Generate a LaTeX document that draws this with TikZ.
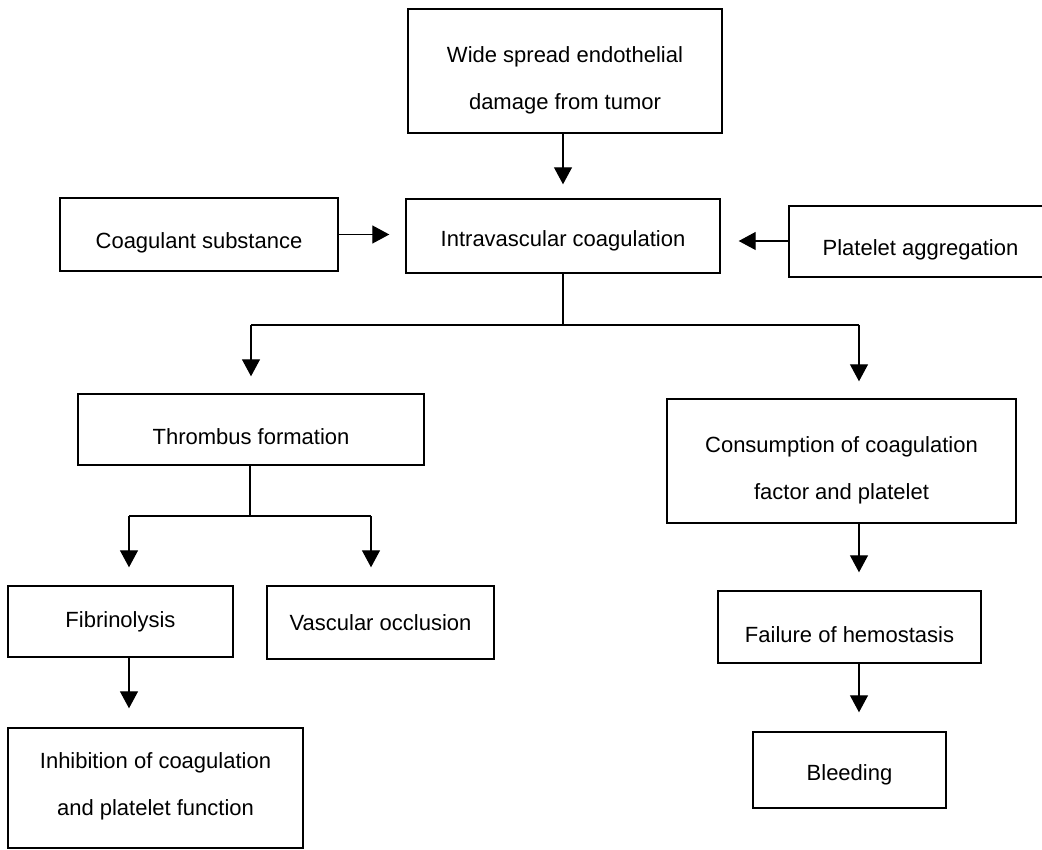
\documentclass[tikz,border=0pt]{standalone}
\usepackage{fontspec}
\setmainfont{Liberation Sans}
\usetikzlibrary{arrows.meta}
\tikzset{
  box/.style={draw, line width=1.4pt, rectangle, inner sep=0pt},
  txt/.style={inner sep=0pt, align=center, font=\fontsize{22}{47}\selectfont},
  conn/.style={line width=1.2pt},
  arr/.style={conn, -{Triangle[length=17pt,width=18pt]}},
}
% name, left, right, top, bottom, text offset (down), text
\newcommand{\bx}[7]{\node[box, minimum width={#3-#2}, minimum height={#5-#4}] (#1) at ({(#2+#3)/2},{(#4+#5)/2}) {};
  \node[txt] (#1-t) at ([yshift=-#6pt]#1.center) {#7};}
\begin{document}
\begin{tikzpicture}[x=1pt,y=-1pt]
\path[use as bounding box] (0,0) rectangle (1042,850);
\bx{top}{408}{722}{9}{133}{9}{Wide spread endothelial\\damage from tumor}
\bx{coag}{60}{338}{198}{271}{8}{Coagulant substance}
\bx{intra}{406}{720}{199}{273}{5}{Intravascular coagulation}
\bx{plat}{789}{1052}{206}{277}{8}{Platelet aggregation}
\bx{thromb}{78}{424}{394}{465}{7}{Thrombus formation}
\bx{fibrin}{8}{233}{586}{657}{0}{Fibrinolysis}
\bx{vasc}{267}{494}{586}{659}{0}{Vascular occlusion}
\bx{inhib}{8}{303}{728}{848}{-2}{Inhibition of coagulation\\and platelet function}
\bx{cons}{667}{1016}{399}{523}{9}{Consumption of coagulation\\factor and platelet}
\bx{fail}{718}{981}{591}{663}{8}{Failure of hemostasis}
\bx{bleed}{753}{946}{732}{808}{5}{Bleeding}
% connectors
\coordinate (j1) at (563,325);
\coordinate (j1l) at (251,325);
\coordinate (j1r) at (859,325);
\coordinate (j2) at (250,516);
\coordinate (j2l) at (129,516);
\coordinate (j2r) at (371,516);
\draw[arr, shorten >=14pt] (top.south -| j1) -- (intra.north -| j1);
\draw[arr, shorten >=16pt] (coag.east) -- (coag.east -| intra.west);
\draw[arr, shorten >=18pt] (plat.west |- 0,241) -- (intra.east |- 0,241);
\draw[conn] (intra.south -| j1) -- (j1);
\draw[conn] (j1l) -- (j1r);
\draw[arr, shorten >=17pt] (j1l) -- (thromb.north -| j1l);
\draw[arr, shorten >=17pt] (j1r) -- (cons.north -| j1r);
\draw[conn] (thromb.south -| j2) -- (j2);
\draw[conn] (j2l) -- (j2r);
\draw[arr, shorten >=18pt] (j2l) -- (fibrin.north -| j2l);
\draw[arr, shorten >=18pt] (j2r) -- (vasc.north -| j2r);
\draw[arr, shorten >=19pt] (fibrin.south -| j2l) -- (inhib.north -| j2l);
\draw[arr, shorten >=18pt] (cons.south -| j1r) -- (fail.north -| j1r);
\draw[arr, shorten >=19pt] (fail.south -| j1r) -- (bleed.north -| j1r);
\end{tikzpicture}
\end{document}
